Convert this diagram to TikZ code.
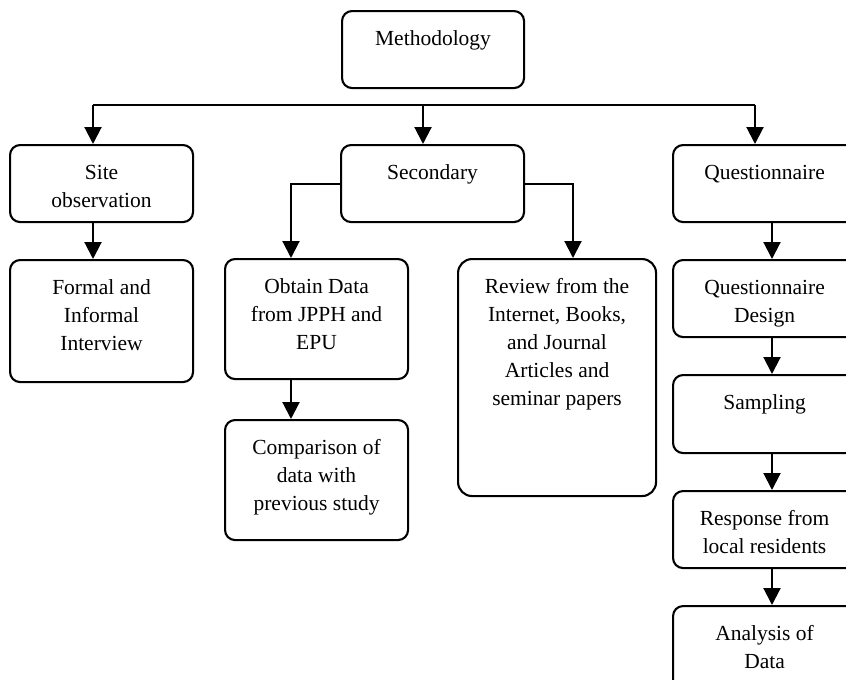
\documentclass[tikz,border=0pt]{standalone}
\usepackage{fontspec}
\setmainfont{Liberation Serif}
\usetikzlibrary{arrows.meta}
\tikzset{
  box/.style={draw, line width=2.1pt, rounded corners=10pt, inner sep=0pt, anchor=north west,
    font=\fontsize{21.5pt}{28pt}\selectfont},
  arr/.style={line width=2.1pt, -{Triangle[length=17pt,width=17pt]}},
  ln/.style={line width=2.1pt}
}
% \bx{name}{x1}{y1}{x2}{y2}{text}
\newcommand\bx[7][]{\node[box,#1] (#2) at (#3,#4)
  {\parbox[t][\dimexpr#6pt-#4pt\relax][t]{\dimexpr#5pt-#3pt\relax}{\centering\rule{0pt}{34pt}#7}};}
\begin{document}
\begin{tikzpicture}[x=1pt,y=-1pt]
\clip (0,0) rectangle (846,680);
\fill[white] (0,0) rectangle (846,680);
\bx{meth}{341}{10}{523}{87}{Methodology}
\bx{site}{9}{144}{192}{221}{Site\\observation}
\bx{sec}{340}{144}{523}{221}{Secondary}
\bx{quest}{672}{144}{855}{221}{Questionnaire}
\bx{formal}{9}{259}{192}{381}{Formal and\\Informal\\Interview}
\bx{obtain}{224}{258}{407}{378}{Obtain Data\\from JPPH and\\EPU}
\bx{comp}{224}{419}{407}{539}{Comparison of\\data with\\previous study}
\bx[rounded corners=14pt]{review}{457}{258}{655}{495}{Review from the\\Internet, Books,\\and Journal\\Articles and\\seminar papers}
\bx{design}{672}{259}{855}{336}{Questionnaire\\Design}
\bx{samp}{672}{374}{855}{452}{Sampling}
\bx{resp}{672}{490}{855}{567}{Response from\\local residents}
\bx{anal}{672}{605}{855}{690}{Analysis of\\Data}
% bus line
\coordinate (bl) at (93,105);
\coordinate (bm) at (423,105);
\coordinate (br) at (755,105);
\coordinate (lx) at (291,182);
\coordinate (rx) at (573,182);
\coordinate (qx) at (772,240);
\draw[ln] (bl) -- (br);
\draw[arr] (bl) -- (site.north -| bl);
\draw[arr] (bm) -- (sec.north -| bm);
\draw[arr] (br) -- (quest.north -| br);
\draw[arr] (site.south -| bl) -- (formal.north -| bl);
\draw[arr] (sec.west) -| (obtain.north -| lx);
\draw[arr] (sec.east) -| (review.north -| rx);
\draw[arr] (obtain.south -| lx) -- (comp.north -| lx);
\draw[arr] (quest.south -| qx) -- (design.north -| qx);
\draw[arr] (design.south -| qx) -- (samp.north -| qx);
\draw[arr] (samp.south -| qx) -- (resp.north -| qx);
\draw[arr] (resp.south -| qx) -- (anal.north -| qx);
\end{tikzpicture}
\end{document}
